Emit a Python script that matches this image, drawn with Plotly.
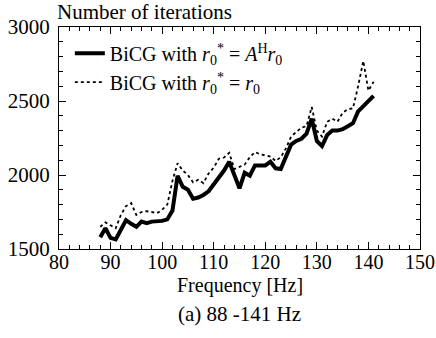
import plotly.graph_objects as go

freq = list(range(88, 142))

bicg_ahr0 = [1580, 1640, 1575, 1565, 1630, 1695, 1670, 1650, 1685, 1675,
             1685, 1688, 1690, 1700, 1760, 1995, 1920, 1900, 1840, 1848,
             1865, 1890, 1935, 1980, 2030, 2090, 2000, 1910, 2015, 1995,
             2065, 2065, 2065, 2090, 2045, 2040, 2130, 2205, 2230, 2245,
             2280, 2380, 2230, 2195, 2270, 2300, 2300, 2310, 2330, 2350,
             2430, 2465, 2500, 2535]

bicg_r0 = [1650, 1680, 1660, 1640, 1730, 1790, 1810, 1730, 1750, 1755,
           1750, 1742, 1765, 1800, 1960, 2080, 2030, 2000, 1950, 1968,
           1945, 2010, 2050, 2110, 2118, 2150, 2040, 2055, 2070, 2120,
           2155, 2140, 2135, 2125, 2095, 2120, 2180, 2260, 2290, 2320,
           2330, 2460, 2300, 2260, 2360, 2380, 2360, 2420, 2445, 2450,
           2600, 2770, 2570, 2630]

name_solid = "BiCG with <i>r</i><sub>0</sub><sup>*</sup> = <i>A</i><sup>H</sup><i>r</i><sub>0</sub>"
name_dot = "BiCG with <i>r</i><sub>0</sub><sup>*</sup> = <i>r</i><sub>0</sub>"

FONT = "'Liberation Serif', 'Times New Roman', Times, serif"

fig = go.Figure()
fig.add_trace(go.Scatter(x=freq, y=bicg_ahr0, mode="lines", name=name_solid,
                         line=dict(color="black", width=4)))
fig.add_trace(go.Scatter(x=freq, y=bicg_r0, mode="lines", name=name_dot,
                         line=dict(color="black", width=1.8, dash="dot")))

axis_common = dict(showgrid=False, zeroline=False, showline=True, linecolor="black",
                   linewidth=1.2, mirror="ticks", ticks="inside", ticklen=7,
                   tickwidth=1, tickcolor="black", automargin=False)

fig.update_xaxes(range=[80, 150], dtick=10, tick0=80, ticklabelstandoff=-5,
                 tickfont=dict(family=FONT, size=20, color="black"),
                 minor=dict(dtick=2, ticks="inside", ticklen=4, tickcolor="black", tickwidth=1),
                 **axis_common)
fig.update_yaxes(range=[1500, 3000], dtick=500, tick0=1500, ticklabelstandoff=4,
                 tickfont=dict(family=FONT, size=21, color="black"),
                 minor=dict(dtick=100, ticks="inside", ticklen=4, tickcolor="black", tickwidth=1),
                 **axis_common)

fig.add_annotation(text="Number of iterations", xref="paper", yref="paper",
                   x=0, y=1, xanchor="left", yanchor="bottom", yshift=1, xshift=-4,
                   showarrow=False, font=dict(family=FONT, size=21, color="black"))
fig.add_annotation(text="Frequency [Hz]", xref="paper", yref="paper",
                   x=0.5, y=0, xanchor="center", yanchor="middle", yshift=-36,
                   showarrow=False, font=dict(family=FONT, size=20, color="black"))
fig.add_annotation(text="(a) 88 -141 Hz", xref="paper", yref="paper",
                   x=0.5, y=0, xanchor="center", yanchor="middle", yshift=-65, showarrow=False,
                   font=dict(family=FONT, size=21, color="black"))

fig.update_layout(width=436, height=338,
                  margin=dict(l=59, r=16, t=27, b=89),
                  paper_bgcolor="white", plot_bgcolor="white",
                  font=dict(family=FONT, color="black"),
                  showlegend=True,
                  legend=dict(x=0.03, y=0.97, xanchor="left", yanchor="top",
                              bgcolor="rgba(0,0,0,0)",
                              font=dict(family=FONT, size=20, color="black"),
                              itemwidth=30, tracegroupgap=0))

fig.write_html("out.html")
